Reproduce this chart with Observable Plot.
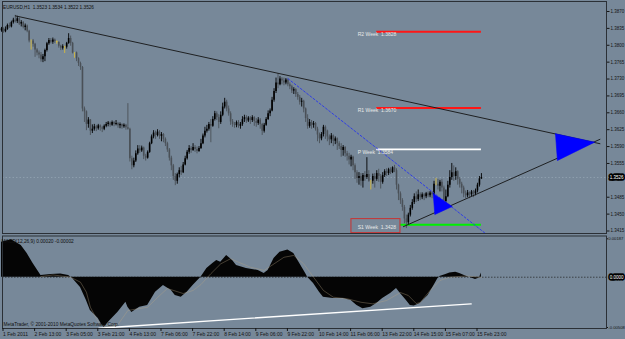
<!DOCTYPE html>
<html>
<head>
<meta charset="utf-8">
<script src="https://cdn.jsdelivr.net/npm/d3@7"></script>
<script src="https://cdn.jsdelivr.net/npm/@observablehq/plot@0.6"></script>
<style>
  html, body { margin: 0; padding: 0; background: #778899; }
  #chart { width: 625px; height: 339px; position: relative; overflow: hidden; background: #778899; }
  #chart svg { display: block; }
</style>
</head>
<body>
<div id="chart"></div>
<script>
// ---------------- data ----------------
const symbolTitle = "EURUSD,H1  1.3523 1.3534 1.3522 1.3526";
const pipBase = 1.34;          // prices below are pips above 1.3400
const firstOpen = 430;
const closes = [
  434,428,433,441,438,447,452,449,455,444, 447,437,440,429,409,409,402,390,384,380,
  370,376,389,403,410,406,411,408,406,398, 394,397,396,404,414,404,384,384,372,362,
  354,268,262,236,245,222,226,231,227,233, 229,226,232,236,239,234,240,236,238,233,
  236,231,234,229,226,165,150,160,175,185, 181,187,170,166,178,196,210,218,213,220,
  211,215,205,196,183,166,150,128,118,132, 140,136,152,165,178,186,182,188,184,180,
  186,196,212,222,226,236,232,246,258,250, 240,255,272,282,268,258,241,236,234,240,
  232,236,246,250,243,249,244,250,242,238, 245,236,222,234,246,258,264,286,304,322,
  318,330,326,322,328,318,314,305,308,298, 292,282,284,268,248,232,240,234,238,226,
  214,206,215,230,222,210,204,212,201,206, 196,190,182,188,175,170,162,168,150,136,
  124,128,118,130,126,132,118,118,128,122, 134,128,116,130,138,134,142,136,146,140,
  110,92,78,64,40,32,48,62,74,86, 80,90,84,90,86,92,88,94,90,112,
  112,108,116,104,76,86,110,126,136,128, 138,122,112,104,92,88,94,90,96,92,
  98,110,123,126
];
const highs = [
  437,436,438,444,446,450,456,462,460,457, 451,449,444,442,431,411,412,404,393,388,
  385,381,392,406,414,414,415,413,409,407, 400,401,398,406,424,419,406,385,386,374,
  365,356,272,264,250,246,235,236,234,236, 235,232,235,240,242,241,243,242,244,240,
  239,237,237,236,279,228,170,166,181,192, 192,191,189,174,181,199,214,223,222,225,
  223,219,217,208,199,186,170,153,134,135, 146,149,157,170,182,192,190,196,192,189,
  190,205,216,230,234,240,246,252,263,262, 256,262,280,290,286,274,262,246,240,243,
  244,240,252,255,254,252,252,254,252,248, 250,248,238,238,250,264,268,292,310,332,
  341,335,333,332,331,330,322,317,312,310, 302,296,290,286,270,256,246,244,242,240,
  230,218,219,234,233,224,214,217,214,210, 208,200,196,192,190,180,176,172,170,154,
  140,136,134,134,138,167,140,120,133,134, 140,143,132,136,142,144,145,146,148,151,
  144,112,96,82,68,48,52,68,80,92, 96,100,94,94,93,95,96,97,96,118,
  124,122,120,122,108,100,118,140,155,150, 146,140,126,116,108,98,99,96,99,99,
  102,114,128,134
];
const lows = [
  427,425,426,431,435,436,444,446,445,441, 438,434,430,426,405,390,396,375,378,372,
  365,364,366,386,400,403,402,404,402,394, 389,390,383,392,402,398,382,373,366,356,
  348,262,240,223,228,213,217,222,221,224, 222,219,223,229,231,230,232,231,233,228,
  227,226,228,224,224,158,142,146,157,172, 176,178,163,160,164,176,194,206,205,210,
  205,200,198,190,178,160,140,120,109,112, 125,130,134,150,162,174,176,180,178,175,
  178,184,194,208,218,222,198,230,243,244, 227,236,252,268,262,253,234,230,228,229,
  228,226,232,240,238,240,236,240,232,230, 234,226,213,218,232,244,252,262,282,300,
  310,316,318,316,318,314,308,300,298,292, 286,276,272,260,240,226,228,226,228,222,
  200,196,202,210,205,200,192,196,190,194, 182,184,168,170,168,160,152,148,140,122,
  114,110,108,104,118,122,116,100,112,104, 118,116,102,112,126,128,130,132,134,136,
  100,78,70,56,30,20,28,44,58,70, 74,76,78,80,78,82,84,84,82,88,
  109,100,96,96,68,72,84,104,120,118, 120,110,104,92,84,82,84,82,86,84,
  88,94,106,122
];
const yellowBars = [15, 28, 32, 37, 187, 220];

const timeLabels = ["1 Feb 2011","2 Feb 13:00","3 Feb 05:00","3 Feb 21:00","4 Feb 13:00",
  "7 Feb 06:00","7 Feb 22:00","8 Feb 14:00","9 Feb 06:00","9 Feb 22:00","10 Feb 14:00",
  "11 Feb 06:00","13 Feb 22:00","14 Feb 15:00","15 Feb 07:00","15 Feb 23:00"];
const barsPerLabel = 16;
const viewBars = [0, 306];

const priceTicks = [1.3870,1.3835,1.3800,1.3765,1.3730,1.3695,1.3660,1.3625,1.3590,1.3555,1.3485,1.3450,1.3415];
const lastPrice = 1.3526;

const pivotNames = ["R2", "R1", "P", "S1"];
const pivotValues = [1.3828, 1.3670, 1.3584, 1.3428];
const pivotStart = 190;

const trendTop = [[7, 1.3861], [303, 1.3596]];
const trendBottom = [[203.5, 1.3424], [303, 1.3605]];
const trendDotted = [[145, 1.3731], [245, 1.3410]];
const bigTriangle = [[280.5, 1.36165], [281.5, 1.35611], [300.3, 1.35991]];
const smallTriangle = [[218.6, 1.34921], [219.4, 1.34492], [228.2, 1.34658]];

const macdTitle = "MACD(12,26,9) 0.00020 -0.00002";
const macdScaleLabels = [0.00187, -0.00508];
const macdHist = [[0,0.00170],[5,0.00182],[10,0.00154],[13,0.00115],[16,0.00067],[20,0.00008],[25,0.00013],[30,0.00016],[34,0.00008],[36,-0.00013],[40,-0.00104],[43,-0.00235],[45,-0.00336],[49,-0.00417],[51,-0.00488],[52,-0.00505],[55,-0.00437],[59,-0.00354],[63,-0.00253],[64,-0.00303],[66,-0.00357],[70,-0.00303],[74,-0.00286],[78,-0.00152],[82,-0.00084],[86,-0.00134],[88,-0.00185],[91,-0.00202],[94,-0.00152],[97,-0.00084],[101,0],[104,0.00042],[107,0.00067],[109,0.00081],[111,0.00073],[114,0.00106],[117,0.00081],[119,0.00057],[124,0.00042],[130,0.00033],[133,0.00018],[135,0.00033],[138,0.00091],[141,0.00122],[145,0.00133],[148,0.00115],[151,0.00067],[154,0.00018],[155,0],[158,-0.00064],[161,-0.00152],[163,-0.00202],[168,-0.00215],[173,-0.00215],[177,-0.00235],[180,-0.00286],[183,-0.00319],[187,-0.00303],[190,-0.00266],[193,-0.00215],[197,-0.00165],[200,-0.00114],[202,-0.00165],[205,-0.00235],[207,-0.00286],[209,-0.00291],[212,-0.00266],[216,-0.00185],[219,-0.00084],[221,-0.00013],[222,0.00003],[225,0.00013],[227,0.00020],[230,0.00024],[232,0.00018],[235,0.00006],[238,-0.00008],[240,-0.00023],[242,-0.00008],[243,0.00020]];
const macdSignal = [[20,0.00003],[26,0.00011],[35,0],[40,-0.00051],[43,-0.00152],[45,-0.00303],[48,-0.00417],[50,-0.00478],[54,-0.00505],[59,-0.00478],[64,-0.00336],[74,-0.00303],[79,-0.00205],[84,-0.00114],[92,-0.00165],[97,-0.00134],[101,-0.00074],[106,0.00017],[111,0.00065],[116,0.0009],[120,0.00073],[126,0.00049],[133,0.00033],[138,0.00065],[143,0.00097],[148,0.00106],[153,0.00065],[158,0],[163,-0.00134],[168,-0.00202],[175,-0.00218],[182,-0.00253],[188,-0.00269],[195,-0.00235],[202,-0.00155],[206,-0.00185],[210,-0.00266],[212,-0.00256],[217,-0.00134],[222,-0.00033],[227,0],[235,0.00006],[243,-0.00002]];
const macdTrend = [[49.3, -0.00515], [237.8, -0.00269]];
const copyright = "MetaTrader, \u00a9 2001-2010 MetaQuotes Software Corp.";

// ---------------- build ----------------
const FONT = "'Liberation Sans', Arial, sans-serif";
const BG = "#778899";
const xRange = [1, 605.35];
const toPrice = p => +(pipBase + p / 10000).toFixed(5);
const bars = closes.map((c, i) => {
  const o = i === 0 ? firstOpen : closes[i - 1];
  return {i, o: toPrice(o), c: toPrice(c), h: toPrice(highs[i]), l: toPrice(lows[i]),
    kind: yellowBars.includes(i) ? "doji" : (c >= o ? "up" : "down")};
});
const lastBar = closes.length - 1;
const candleColor = {up: "#000000", down: "#4a5057", doji: "#d9bc3a"};
const pivots = pivotNames.map((name, k) => ({name, v: pivotValues[k]}));
const pivotColor = {R2: "#ff1616", R1: "#ff1616", P: "#ffffff", S1: "#00f000"};
const closed = pts => [...pts, pts[0]];
const px = d => d[0], py = d => d[1];

function s1Box(index, scales) {
  if (!scales || !scales.x || !scales.y) return null;
  const s1 = pivots.find(d => d.name === "S1");
  const cx = scales.x(pivotStart), cy = scales.y(s1.v);
  return d3.create("svg:rect")
    .attr("x", cx - 25.3).attr("y", cy - 5.6)
    .attr("width", 49).attr("height", 14)
    .attr("fill", BG).attr("stroke", "#c83232").attr("stroke-width", 1)
    .node();
}

const main = Plot.plot({
  width: 625, height: 234,
  marginTop: 1, marginRight: 19, marginBottom: 1, marginLeft: 2,
  style: {background: BG, fontFamily: FONT, overflow: "visible"},
  x: {domain: viewBars, range: xRange, axis: null, label: null},
  y: {domain: [1.3415, 1.3870], range: [230.5, 11], axis: null, label: null},
  marks: [
    Plot.ruleY([lastPrice], {y: d => d, stroke: "#9aa9b8", strokeWidth: 0.7, strokeDasharray: "1.5,2"}),
    Plot.ruleY(pivots, {y: "v", x1: () => pivotStart, x2: () => lastBar, stroke: d => pivotColor[d.name], strokeWidth: 1.8}),
    Plot.ruleX(bars, {x: "i", y1: "l", y2: "h", stroke: d => candleColor[d.kind], strokeWidth: 0.9}),
    Plot.ruleX(bars, {x: "i", y1: "o", y2: "c", stroke: d => candleColor[d.kind], strokeWidth: 1.6}),
    Plot.line(trendTop, {x: px, y: py, stroke: "#141414", strokeWidth: 0.9}),
    Plot.line(trendBottom, {x: px, y: py, stroke: "#141414", strokeWidth: 0.9}),
    Plot.line(trendDotted, {x: px, y: py, stroke: "#2633ee", strokeWidth: 0.9, strokeDasharray: "2,2"}),
    Plot.line(closed(bigTriangle), {x: px, y: py, fill: "#0000ff", stroke: "#0000ff", strokeWidth: 0.6}),
    Plot.line(closed(smallTriangle), {x: px, y: py, fill: "#0000ff", stroke: "#0000ff", strokeWidth: 0.6}),
    s1Box,
    Plot.text(pivots, {x: () => pivotStart, y: "v", text: d => `${d.name} Week  ${d.v.toFixed(4)}`,
      textAnchor: "start", dx: -19, dy: 2.8, fontSize: 5, fill: "#e8e8e8"}),
    Plot.frame({stroke: "#2b3036", strokeWidth: 1}),
    Plot.axisY(priceTicks, {anchor: "right", tickSize: 2.5, tickPadding: 1.5, tickFormat: d => d.toFixed(4),
      fontSize: 4.5, color: "#151515", label: null}),
    Plot.text([lastPrice], {y: d => d, text: d => d.toFixed(4), frameAnchor: "right", textAnchor: "start",
      dx: 3.2, fontSize: 4.5, fill: "#ffffff", stroke: "#000000", strokeWidth: 3.4, paintOrder: "stroke"}),
    Plot.text([symbolTitle], {text: d => d, frameAnchor: "top-left", textAnchor: "start", dx: 0.5, dy: 4.5,
      fontSize: 4.7, fill: "#101010"})
  ]
});

// MetaTrader draws the negative side of this sub-window compressed relative to the positive side
const negCompress = 0.482;
const macdTransform = v => (v < 0 ? v * negCompress : v);
const timeTicks = timeLabels.map((_, k) => k * barsPerLabel);
const macd = Plot.plot({
  width: 625, height: 105,
  marginTop: 1.5, marginRight: 19, marginBottom: 11, marginLeft: 2,
  style: {background: BG, fontFamily: FONT, overflow: "visible"},
  x: {domain: viewBars, range: xRange, axis: null, label: null},
  y: {type: "linear", transform: macdTransform,
      domain: [macdTransform(macdScaleLabels[1]), macdScaleLabels[0]], range: [93, 4.3], axis: null, label: null},
  marks: [
    Plot.ruleY([0], {y: d => d, stroke: "#222222", strokeWidth: 0.7, strokeDasharray: "1.5,1.5"}),
    Plot.areaY(macdHist, {x: px, y: py, fill: "#050505"}),
    Plot.line(macdSignal, {x: px, y: py, stroke: "#b9a684", strokeWidth: 0.45, strokeOpacity: 0.8}),
    Plot.line(macdTrend, {x: px, y: py, stroke: "#ffffff", strokeWidth: 1.4}),
    Plot.frame({stroke: "#2b3036", strokeWidth: 1}),
    Plot.axisX(timeTicks, {anchor: "bottom", tickSize: 3, tickPadding: 0.5,
      tickFormat: d => timeLabels[d / barsPerLabel], textAnchor: "start", dx: 1.5,
      fontSize: 5, color: "#151515", label: null}),
    Plot.axisY(macdScaleLabels, {anchor: "right", tickSize: 1, tickPadding: 0.8, tickFormat: d => d.toFixed(5),
      fontSize: 4.2, color: "#151515", label: null}),
    Plot.text([0], {y: d => d, text: () => "0.0000", frameAnchor: "right", textAnchor: "start",
      dx: 3.2, fontSize: 4.5, fill: "#ffffff", stroke: "#000000", strokeWidth: 3.4, paintOrder: "stroke"}),
    Plot.text([macdTitle], {text: d => d, frameAnchor: "top-left", textAnchor: "start", dx: -1, dy: 4,
      fontSize: 4.8, fill: "#101010"}),
    Plot.text([copyright], {text: d => d, frameAnchor: "bottom-left", textAnchor: "start", dx: 1, dy: -2.5,
      fontSize: 4.8, fill: "#101010"})
  ]
});

document.getElementById("chart").append(main, macd);
</script>
</body>
</html>
